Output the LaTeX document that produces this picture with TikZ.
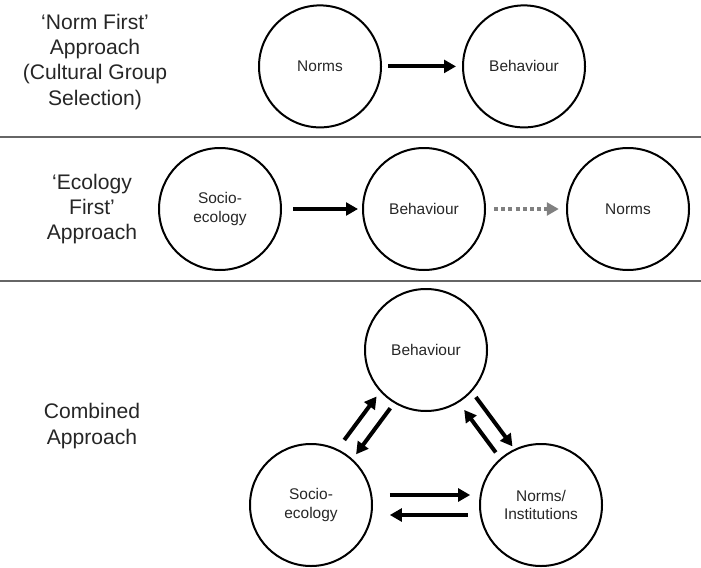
\documentclass[tikz,border=0pt]{standalone}
\usepackage{fontspec}
\setmainfont{Liberation Sans}
\usepackage{tikz}
\usetikzlibrary{automata, positioning, arrows.meta}
\tikzset{
	arr/.style={-{Triangle[length=0.3cm,width=0.32cm]}, line width=0.1cm}, % thick solid arrow
	dotarr/.style={arr, black!50, dash pattern=on 0.1cm off 0.08cm}, % dotted grey arrow
	node distance=5.1cm, % centre to centre distance in a row
	every state/.style={draw, line width=0.05cm, minimum size=3.05cm, inner sep=0pt, align=center, text=black!85, font=\fontsize{11}{13}\selectfont}, % the circles
	approach/.style={align=center, text=black!85, font=\fontsize{15}{18}\selectfont}, % row titles
	sep/.style={black!60, line width=0.05cm}, % lines between rows
}
\begin{document}
\begin{tikzpicture}
	\useasboundingbox (0,0) rectangle (17.525,-14.175);
	% norm first
	\node[approach] (lab1) at (2.375,-1.54) {‘Norm First’\\Approach\\(Cultural Group\\Selection)};
	\node[state] (norms1) at (8.0,-1.66) {Norms};
	\node[state, right of=norms1] (beh1) {Behaviour};
	\draw (norms1) edge[arr, shorten <=0.15cm, shorten >=0.15cm] (beh1);
	\draw[sep] (0,-3.425) -- (17.525,-3.425);
	% ecology first
	\node[approach] (lab2) at (2.3,-5.225) {‘Ecology\\First’\\Approach};
	\node[state] (soc2) at (5.5,-5.225) {Socio-\\ecology};
	\node[state, right of=soc2] (beh2) {Behaviour};
	\node[state, right of=beh2] (nor2) {Norms};
	\draw (soc2) edge[arr, shorten <=0.28cm, shorten >=0.1cm] (beh2)
		(beh2) edge[dotarr, shorten <=0.2cm, shorten >=0.18cm] (nor2);
	\draw[sep] (0,-7.025) -- (17.525,-7.025);
	% combined
	\node[approach] (lab3) at (2.3,-10.65) {Combined\\Approach};
	\node[state] (beh3) at (10.65,-8.75) {Behaviour};
	\node[state] (soc3) at (7.775,-12.625) {Socio-\\ecology};
	\node[state] (nor3) at (13.525,-12.625) {Norms/\\Institutions};
	\draw (soc3) edge[arr, shorten <=0.25cm, shorten >=0.12cm, transform canvas={shift={(-0.24,0.18)}}] (beh3)
		(beh3) edge[arr, shorten <=0.15cm, shorten >=0.14cm, transform canvas={shift={(0.12,-0.09)}}] (soc3)
		(beh3) edge[arr, shorten <=0.14cm, shorten >=0.05cm, transform canvas={shift={(0.24,0.18)}}] (nor3)
		(nor3) edge[arr, shorten <=0.18cm, shorten >=0.22cm, transform canvas={shift={(-0.1,-0.075)}}] (beh3)
		(soc3) edge[arr, shorten <=0.42cm, shorten >=0.22cm, transform canvas={yshift=0.25cm}] (nor3)
		(nor3) edge[arr, shorten <=0.28cm, shorten >=0.42cm, transform canvas={yshift=-0.25cm}] (soc3);
\end{tikzpicture}
\end{document}
